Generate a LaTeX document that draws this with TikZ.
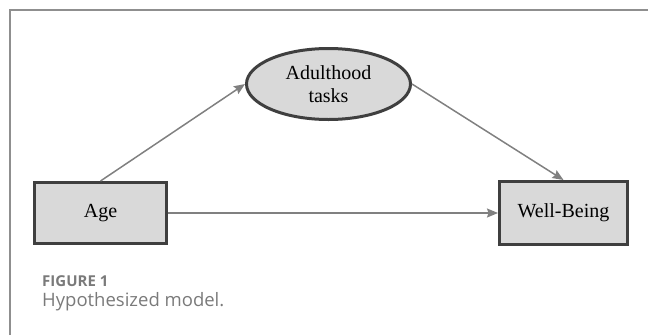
\documentclass[tikz,border=0pt]{standalone}
\usepackage{fontspec}
\setmainfont{Liberation Serif}
\newfontfamily\capfont{Open Sans}
\usepackage{tikz}
\usetikzlibrary{shapes}
\usetikzlibrary{arrows,arrows.meta,positioning}
\definecolor{boxfill}{HTML}{D9D9D9}
\definecolor{boxline}{HTML}{3F3F3F}
\definecolor{arrowgray}{HTML}{808080}
\definecolor{framegray}{HTML}{8F8F8F}
\definecolor{capgray}{HTML}{7A7A7A}
\tikzstyle{var node}=[rectangle, draw=boxline, fill=boxfill, line width=3pt, minimum width=132pt, minimum height=61pt, font=\fontsize{20}{22.5}\selectfont]
\tikzstyle{task node}=[ellipse, draw=boxline, fill=boxfill, line width=3pt, minimum width=164pt, minimum height=71pt, inner sep=0pt, align=center, font=\fontsize{20}{22.5}\selectfont]
\tikzstyle{cap node}=[anchor=base west, inner sep=0pt, text=capgray]

\begin{document}
\begin{tikzpicture}[-{Stealth[length=11pt,width=9pt,inset=1.5pt]}, x=1pt, y=-1pt]
%
  \useasboundingbox (0,0) rectangle (648,335);
  \draw[-, framegray, line width=1.5pt] (10,335) -- (10,10) -- (648,10);
%
  \node[var node] (age) at (100.5,213) {Age};
  \node[var node, minimum width=128pt, minimum height=63pt] (wb) [right=330pt of age] {Well-Being};
  \node[task node] (tasks) at (328.5,84) {Adulthood\\tasks};
 \path[every edge/.style={draw=arrowgray, line width=1.5pt}]
	(age.north) edge (tasks.west)
	(tasks.east) edge (wb.north)
	(age) edge (wb);
%
  \node[cap node, font=\capfont\bfseries\fontsize{15}{17}\selectfont] (fig) at (42,286) {FIGURE 1};
  \node[cap node, font=\capfont\fontsize{18.5}{20}\selectfont] (cap) at (42,306.5) {Hypothesized model.};
\end{tikzpicture}
\end{document}
